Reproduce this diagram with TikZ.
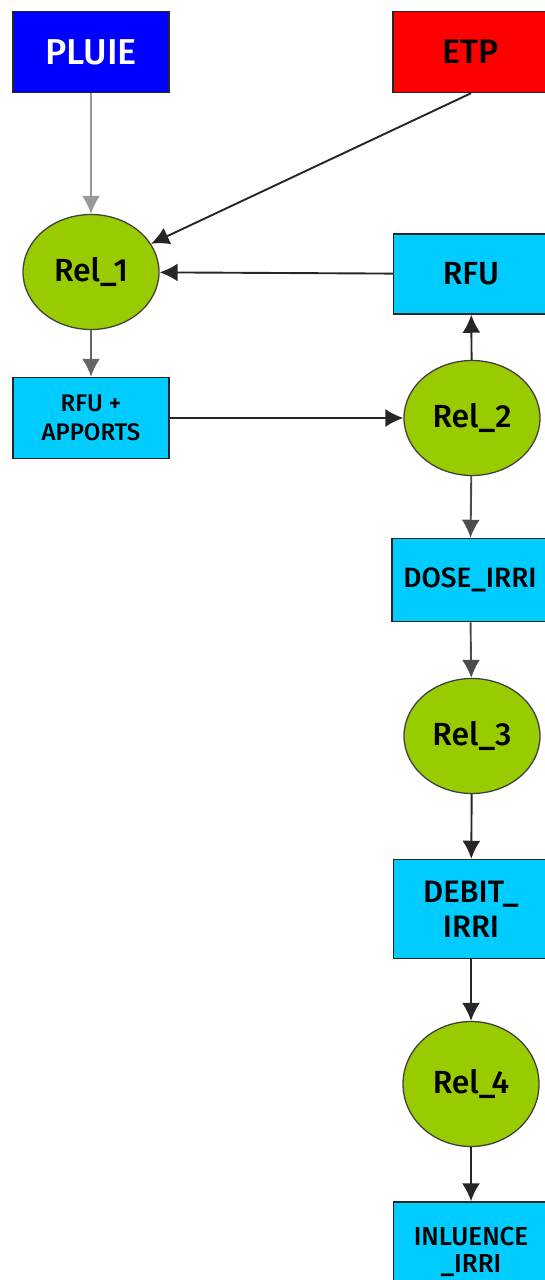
\documentclass[tikz,border=0pt]{standalone}
\usepackage{fontspec}
\setmainfont{Fira Sans}[UprightFont=* Medium]
\usetikzlibrary{arrows.meta,shapes.geometric}

\begin{document}
\begin{tikzpicture}[x=1pt,y=-1pt,>={Latex[length=18pt,width=18pt]},
    var/.style={draw=black!85,line width=1.5pt,rectangle,fill=skyb,
      minimum width=156pt,minimum height=81pt,inner sep=2pt,align=center,
      font=\fontsize{28}{34}\selectfont},
    rel/.style={draw=black!75,line width=1.3pt,ellipse,fill=leaf,
      minimum width=136pt,minimum height=115pt,inner sep=0pt,
      font=\fontsize{32}{36}\selectfont},
    link/.style={->,line width=1.9pt,draw=black!85}]
    \definecolor{skyb}{RGB}{0,204,255}
    \definecolor{leaf}{RGB}{153,204,0}
    \useasboundingbox (0,0) rectangle (545,1280);
    % inputs
    \node [var,fill=blue,text=white,font=\fontsize{36}{40}\selectfont] (pluie) at (91,52) {PLUIE};
    \node [var,fill=red,font=\fontsize{34}{40}\selectfont] (etp) at (471,52) {ETP};
    % left column
    \node [rel] (rel1) at (91,272) {Rel\_1};
    \node [var,font=\fontsize{24}{29}\selectfont] (rfuapp) at (91,418) {RFU +\\APPORTS};
    % right column
    \node [var,minimum width=155pt,minimum height=80pt,font=\fontsize{32}{36}\selectfont] (rfu) at (471,274) {RFU};
    \node [rel] (rel2) at (472,418) {Rel\_2};
    \node [var,minimum height=83pt] (dose) at (470,580) {DOSE\_IRRI};
    \node [rel] (rel3) at (472,736) {Rel\_3};
    \node [var,minimum width=155pt,minimum height=99pt,font=\fontsize{31}{35}\selectfont] (debit) at (471,909) {DEBIT\_\\IRRI};
    \node [rel,minimum height=125pt] (rel4) at (471,1084) {Rel\_4};
    \node [var,minimum width=155pt,minimum height=100pt,font=\fontsize{26}{27}\selectfont] (influ) at (471,1252) {INLUENCE\\\_IRRI};
    % links
    \draw [link,draw=black!40] (pluie) -- (rel1);
    \draw [link] (etp.south) -- (rel1);
    \draw [link] (rfu) -- (rel1);
    \draw [link,draw=black!60] (rel1) -- (rfuapp);
    \draw [link] (rfuapp) -- (rel2);
    \draw [link] (rel2) -- (rfu);
    \draw [link,draw=black!70] (rel2) -- (dose);
    \draw [link,draw=black!70] (dose) -- (rel3);
    \draw [link] (rel3) -- (debit);
    \draw [link] (debit) -- (rel4);
    \draw [link] (rel4) -- (influ);
\end{tikzpicture}
\end{document}
